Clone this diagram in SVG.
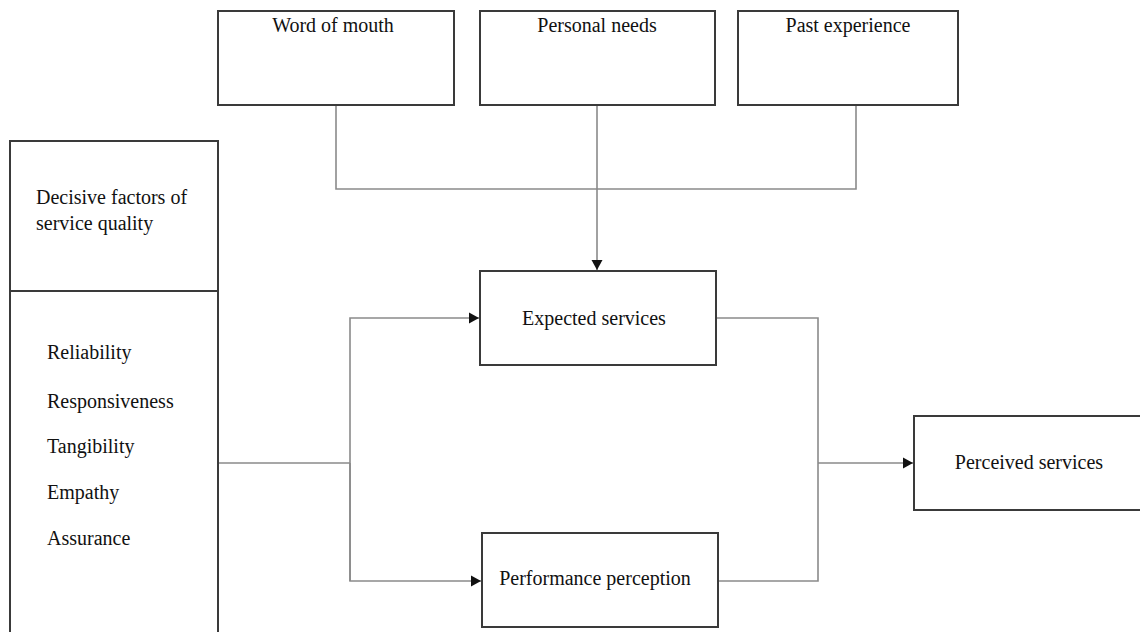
<svg xmlns="http://www.w3.org/2000/svg" width="1140" height="632" viewBox="0 0 1140 632">
<style>
.box{fill:#fff;stroke:#3a3a3a;stroke-width:2}
.conn{fill:none;stroke:#8a8a8a;stroke-width:1.6}
text{font-family:"Liberation Serif","Times New Roman",serif;font-size:20px;fill:#111}
.c{text-anchor:middle}
</style>
<defs>
<marker id="arr" markerWidth="12" markerHeight="12" refX="10" refY="6" orient="auto" markerUnits="userSpaceOnUse">
<path d="M0,0.5 L10,6 L0,11.5 Z" fill="#111"/>
</marker>
</defs>
<rect width="1140" height="632" fill="#fff"/>
<g id="connectors">
<polyline class="conn" points="336,105 336,189 856,189 856,105"/>
<line class="conn" x1="597" y1="105" x2="597" y2="270" marker-end="url(#arr)"/>
<line class="conn" x1="218" y1="463" x2="350" y2="463"/>
<polyline class="conn" points="350,581 350,318 479,318" marker-end="url(#arr)"/>
<polyline class="conn" points="350,463 350,581 481,581" marker-end="url(#arr)"/>
<polyline class="conn" points="716,318 818,318 818,581 718,581"/>
<line class="conn" x1="818" y1="463" x2="913" y2="463" marker-end="url(#arr)"/>
</g>
<g id="word-of-mouth">
<rect class="box" x="218" y="11" width="236" height="94"/>
<text class="c" x="333" y="32">Word of mouth</text>
</g>
<g id="personal-needs">
<rect class="box" x="480" y="11" width="235" height="94"/>
<text class="c" x="597" y="32">Personal needs</text>
</g>
<g id="past-experience">
<rect class="box" x="738" y="11" width="220" height="94"/>
<text class="c" x="848" y="32">Past experience</text>
</g>
<g id="decisive-factors">
<rect class="box" x="10" y="141" width="208" height="500"/>
<line x1="10" y1="291" x2="218" y2="291" stroke="#3a3a3a" stroke-width="2"/>
<text x="36" y="204">Decisive factors of</text>
<text x="36" y="230">service quality</text>
<text x="47" y="359">Reliability</text>
<text x="47" y="408">Responsiveness</text>
<text x="47" y="453">Tangibility</text>
<text x="47" y="499">Empathy</text>
<text x="47" y="545">Assurance</text>
</g>
<g id="expected-services">
<rect class="box" x="480" y="271" width="236" height="94"/>
<text class="c" x="594" y="325">Expected services</text>
</g>
<g id="performance-perception">
<rect class="box" x="482" y="533" width="236" height="94"/>
<text class="c" x="595" y="585">Performance perception</text>
</g>
<g id="perceived-services">
<rect class="box" x="914" y="416" width="236" height="94"/>
<text class="c" x="1029" y="469">Perceived services</text>
</g>
</svg>
